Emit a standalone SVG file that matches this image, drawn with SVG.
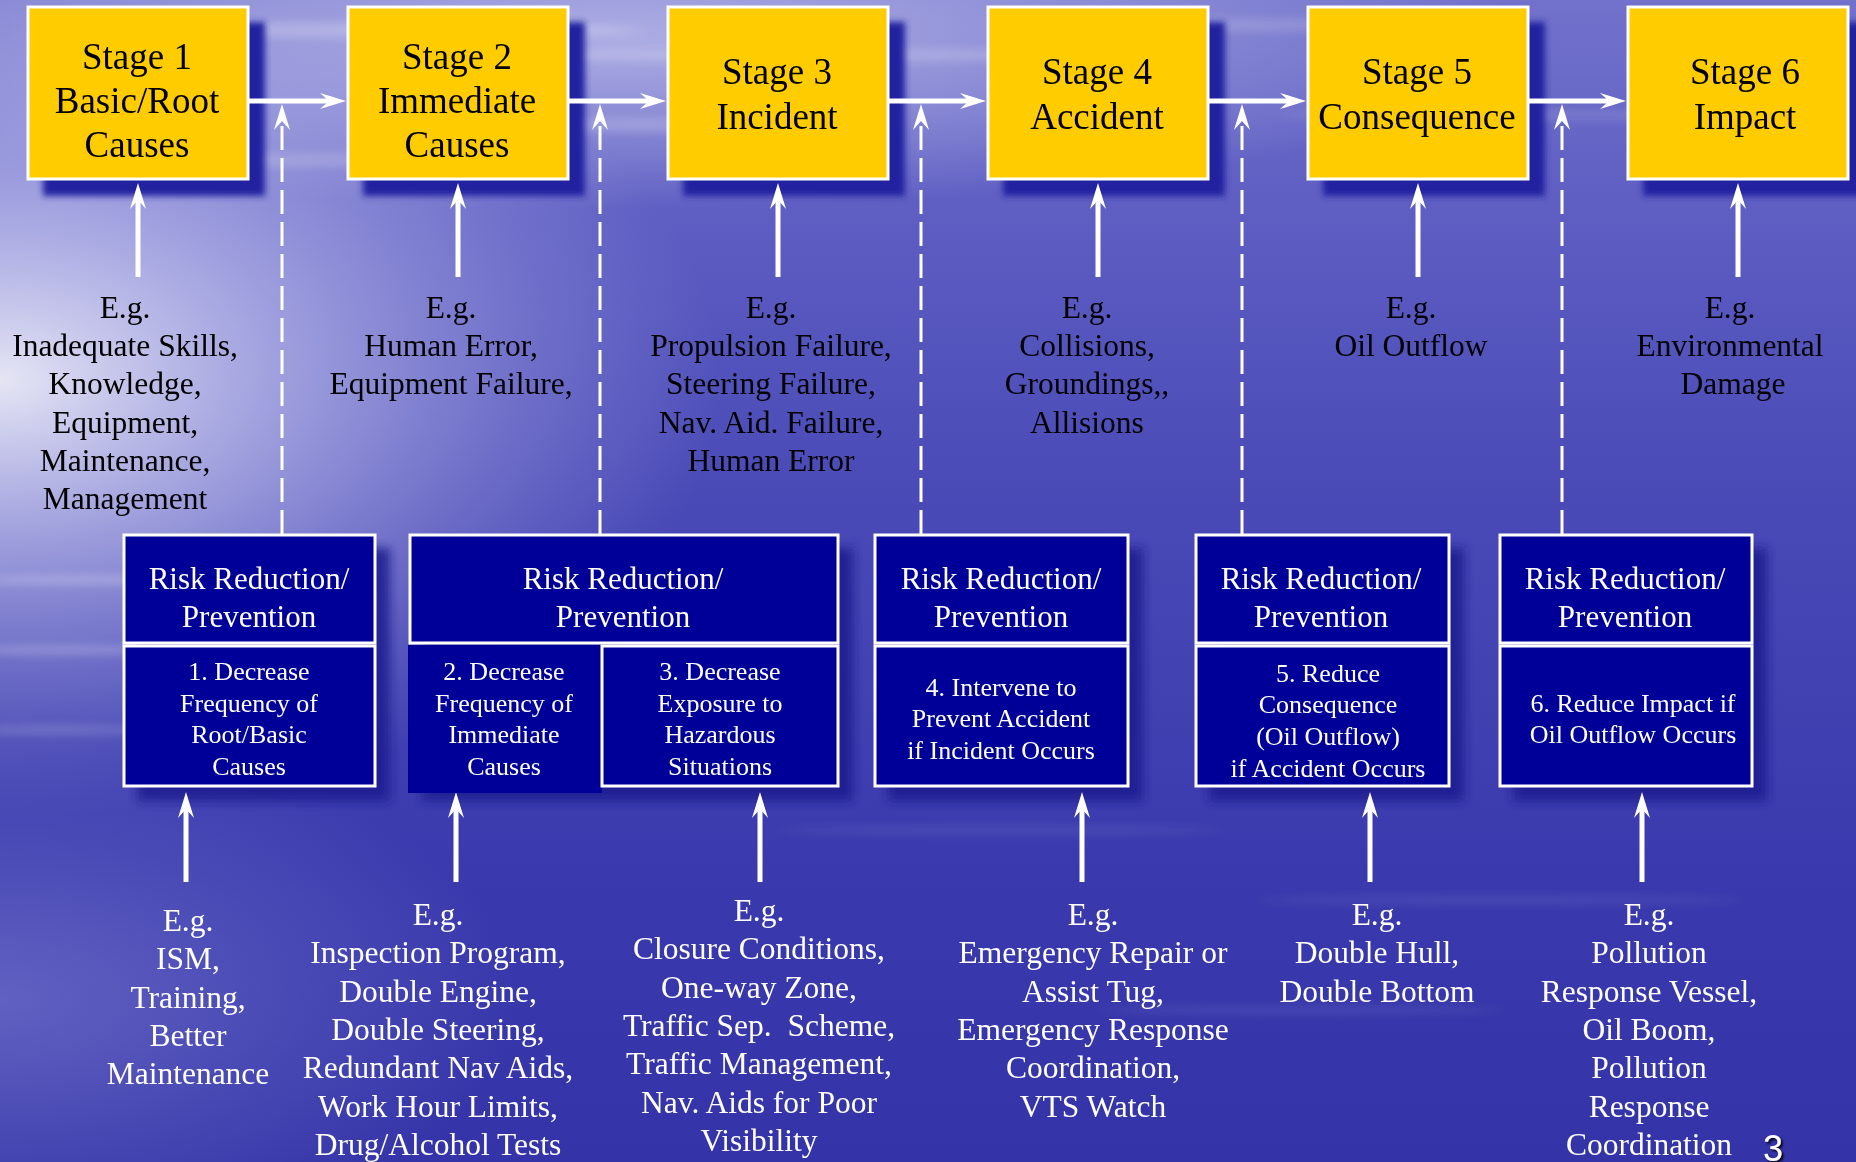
<svg xmlns="http://www.w3.org/2000/svg" width="1856" height="1162" viewBox="0 0 1856 1162">
<defs>
  <linearGradient id="bgv" x1="0" y1="0" x2="0" y2="1">
    <stop offset="0" stop-color="#7272cc"/>
    <stop offset="0.2" stop-color="#5c5cc2"/>
    <stop offset="0.45" stop-color="#4848b6"/>
    <stop offset="0.75" stop-color="#3a3aae"/>
    <stop offset="1" stop-color="#3434a8"/>
  </linearGradient>
  <radialGradient id="glowL" cx="0" cy="0" r="1" gradientUnits="userSpaceOnUse" gradientTransform="translate(0,380) scale(720,440)">
    <stop offset="0" stop-color="#ffffff" stop-opacity="0.85"/>
    <stop offset="0.4" stop-color="#e8e8ff" stop-opacity="0.5"/>
    <stop offset="1" stop-color="#c0c0f0" stop-opacity="0"/>
  </radialGradient>
  <radialGradient id="glowT" cx="0" cy="0" r="1" gradientUnits="userSpaceOnUse" gradientTransform="translate(620,40) scale(900,170)">
    <stop offset="0" stop-color="#d8d8f6" stop-opacity="0.6"/>
    <stop offset="1" stop-color="#d8d8f6" stop-opacity="0"/>
  </radialGradient>
  <radialGradient id="glowB" cx="0" cy="0" r="1" gradientUnits="userSpaceOnUse" gradientTransform="translate(0,1000) scale(520,260)">
    <stop offset="0" stop-color="#8a8ad8" stop-opacity="0.5"/>
    <stop offset="1" stop-color="#8a8ad8" stop-opacity="0"/>
  </radialGradient>
  <filter id="blurS" x="-20%" y="-20%" width="140%" height="140%">
    <feGaussianBlur stdDeviation="3"/>
  </filter>
  <filter id="blurR" x="-20%" y="-20%" width="140%" height="140%">
    <feGaussianBlur stdDeviation="5"/>
  </filter>
  <filter id="streak" x="-20%" y="-400%" width="140%" height="900%">
    <feGaussianBlur stdDeviation="14 4"/>
  </filter>
  <filter id="txtsh" x="-30%" y="-30%" width="160%" height="160%">
    <feDropShadow dx="2" dy="2" stdDeviation="1" flood-color="#000000" flood-opacity="0.9"/>
  </filter>
  <marker id="ah" viewBox="0 0 26 18" refX="10" refY="9" markerWidth="26" markerHeight="18" markerUnits="userSpaceOnUse" orient="auto">
    <path d="M0,1 L26,9 L0,17 L9,9 Z" fill="#ffffff"/>
  </marker>
  <marker id="ahd" viewBox="0 0 26 18" refX="10" refY="9" markerWidth="26" markerHeight="18" markerUnits="userSpaceOnUse" orient="auto">
    <path d="M0,1 L26,9 L0,17 L9,9 Z" fill="#ffffff"/>
  </marker>
  <style>
    .stage{fill:#ffcc00;stroke:#ffffff;stroke-width:3}
    .sshadow{fill:#2020a0;filter:url(#blurS)}
    .rshadow{fill:#1c1c90;opacity:0.85;filter:url(#blurR)}
    .risk{fill:#000099;stroke:#ffffff;stroke-width:3}
    .riskfill{fill:#000099}
    .st{font-family:"Liberation Serif","Times New Roman",serif;font-size:37px;fill:#000000;text-anchor:middle}
    .eg{font-family:"Liberation Serif","Times New Roman",serif;font-size:31.5px;fill:#000000;text-anchor:middle}
    .egw{font-family:"Liberation Serif","Times New Roman",serif;font-size:31.5px;fill:#ffffff;text-anchor:middle}
    .rh{font-family:"Liberation Serif","Times New Roman",serif;font-size:31px;fill:#ffffff;text-anchor:middle}
    .rs{font-family:"Liberation Serif","Times New Roman",serif;font-size:26px;fill:#ffffff;text-anchor:middle}
    .solid{stroke:#ffffff;stroke-width:5;fill:none;marker-end:url(#ah)}
    .horiz{stroke:#ffffff;stroke-width:5;fill:none;marker-end:url(#ah)}
    .dash{stroke:#ffffff;stroke-width:3;fill:none;stroke-dasharray:24 8;marker-end:url(#ahd)}
    .pg{font-family:"Liberation Sans",Arial,sans-serif;font-size:36px;fill:#ffffff}
  </style>
</defs>

<g id="background">
  <rect x="0" y="0" width="1856" height="1162" fill="url(#bgv)"/>
  <rect x="0" y="0" width="1856" height="1162" fill="url(#glowT)"/>
  <rect x="0" y="0" width="1856" height="1162" fill="url(#glowL)"/>
  <rect x="0" y="0" width="1856" height="1162" fill="url(#glowB)"/>
  <g filter="url(#streak)" fill="#ffffff">
    <ellipse cx="380" cy="30" rx="260" ry="8" opacity="0.22"/>
    <ellipse cx="820" cy="55" rx="300" ry="7" opacity="0.18"/>
    <ellipse cx="1200" cy="25" rx="200" ry="7" opacity="0.15"/>
    <ellipse cx="640" cy="125" rx="180" ry="7" opacity="0.18"/>
    <ellipse cx="1500" cy="115" rx="220" ry="6" opacity="0.12"/>
    <ellipse cx="300" cy="160" rx="200" ry="7" opacity="0.16"/>
    <ellipse cx="110" cy="580" rx="140" ry="5" opacity="0.22"/>
    <ellipse cx="70" cy="650" rx="110" ry="5" opacity="0.2"/>
    <ellipse cx="60" cy="730" rx="100" ry="5" opacity="0.15"/>
    <ellipse cx="1000" cy="830" rx="220" ry="5" opacity="0.07"/>
    <ellipse cx="1500" cy="900" rx="240" ry="5" opacity="0.07"/>
    <ellipse cx="1300" cy="1010" rx="200" ry="5" opacity="0.07"/>
  </g>
</g>

<g id="shadows">
  <rect class="sshadow" x="43" y="22" width="222" height="174"/>
  <rect class="sshadow" x="363" y="22" width="222" height="174"/>
  <rect class="sshadow" x="683" y="22" width="222" height="174"/>
  <rect class="sshadow" x="1003" y="22" width="222" height="174"/>
  <rect class="sshadow" x="1323" y="22" width="222" height="174"/>
  <rect class="sshadow" x="1643" y="22" width="222" height="174"/>
  <rect class="rshadow" x="137" y="548" width="253" height="253"/>
  <rect class="rshadow" x="422" y="548" width="431" height="253"/>
  <rect class="rshadow" x="888" y="548" width="255" height="253"/>
  <rect class="rshadow" x="1209" y="548" width="255" height="253"/>
  <rect class="rshadow" x="1513" y="548" width="254" height="253"/>
</g>

<g id="connectors">
  <line class="horiz" x1="249" y1="101" x2="330" y2="101"/>
  <line class="horiz" x1="569" y1="101" x2="650" y2="101"/>
  <line class="horiz" x1="889" y1="101" x2="970" y2="101"/>
  <line class="horiz" x1="1209" y1="101" x2="1290" y2="101"/>
  <line class="horiz" x1="1529" y1="101" x2="1610" y2="101"/>

  <line class="solid" x1="138" y1="277" x2="138" y2="199"/>
  <line class="solid" x1="458" y1="277" x2="458" y2="199"/>
  <line class="solid" x1="778" y1="277" x2="778" y2="199"/>
  <line class="solid" x1="1098" y1="277" x2="1098" y2="199"/>
  <line class="solid" x1="1418" y1="277" x2="1418" y2="199"/>
  <line class="solid" x1="1738" y1="277" x2="1738" y2="199"/>

  <line class="dash" x1="282" y1="534" x2="282" y2="120"/>
  <line class="dash" x1="600" y1="534" x2="600" y2="120"/>
  <line class="dash" x1="921" y1="534" x2="921" y2="120"/>
  <line class="dash" x1="1242" y1="534" x2="1242" y2="120"/>
  <line class="dash" x1="1562" y1="534" x2="1562" y2="120"/>

  <line class="solid" x1="186" y1="882" x2="186" y2="808"/>
  <line class="solid" x1="456" y1="882" x2="456" y2="808"/>
  <line class="solid" x1="760" y1="882" x2="760" y2="808"/>
  <line class="solid" x1="1082" y1="882" x2="1082" y2="808"/>
  <line class="solid" x1="1370" y1="882" x2="1370" y2="808"/>
  <line class="solid" x1="1642" y1="882" x2="1642" y2="808"/>
</g>

<g id="stage1">
  <rect class="stage" x="28" y="7" width="220" height="172"/>
  <text class="st" x="137" y="69">Stage 1</text>
  <text class="st" x="137" y="113">Basic/Root</text>
  <text class="st" x="137" y="157">Causes</text>
</g>
<g id="stage2">
  <rect class="stage" x="348" y="7" width="220" height="172"/>
  <text class="st" x="457" y="69">Stage 2</text>
  <text class="st" x="457" y="113">Immediate</text>
  <text class="st" x="457" y="157">Causes</text>
</g>
<g id="stage3">
  <rect class="stage" x="668" y="7" width="220" height="172"/>
  <text class="st" x="777" y="84">Stage 3</text>
  <text class="st" x="777" y="129">Incident</text>
</g>
<g id="stage4">
  <rect class="stage" x="988" y="7" width="220" height="172"/>
  <text class="st" x="1097" y="84">Stage 4</text>
  <text class="st" x="1097" y="129">Accident</text>
</g>
<g id="stage5">
  <rect class="stage" x="1308" y="7" width="220" height="172"/>
  <text class="st" x="1417" y="84">Stage 5</text>
  <text class="st" x="1417" y="129">Consequence</text>
</g>
<g id="stage6">
  <rect class="stage" x="1628" y="7" width="220" height="172"/>
  <text class="st" x="1745" y="84">Stage 6</text>
  <text class="st" x="1745" y="129">Impact</text>
</g>

<g id="examples-top">
  <text class="eg" x="125" y="318">E.g.</text>
  <text class="eg" x="125" y="356">Inadequate Skills,</text>
  <text class="eg" x="125" y="394">Knowledge,</text>
  <text class="eg" x="125" y="433">Equipment,</text>
  <text class="eg" x="125" y="471">Maintenance,</text>
  <text class="eg" x="125" y="509">Management</text>

  <text class="eg" x="451" y="318">E.g.</text>
  <text class="eg" x="451" y="356">Human Error,</text>
  <text class="eg" x="451" y="394">Equipment Failure,</text>

  <text class="eg" x="771" y="318">E.g.</text>
  <text class="eg" x="771" y="356">Propulsion Failure,</text>
  <text class="eg" x="771" y="394">Steering Failure,</text>
  <text class="eg" x="771" y="433">Nav. Aid. Failure,</text>
  <text class="eg" x="771" y="471">Human Error</text>

  <text class="eg" x="1087" y="318">E.g.</text>
  <text class="eg" x="1087" y="356">Collisions,</text>
  <text class="eg" x="1087" y="394">Groundings,,</text>
  <text class="eg" x="1087" y="433">Allisions</text>

  <text class="eg" x="1411" y="318">E.g.</text>
  <text class="eg" x="1411" y="356">Oil Outflow</text>

  <text class="eg" x="1730" y="318">E.g.</text>
  <text class="eg" x="1730" y="356">Environmental</text>
  <text class="eg" x="1733" y="394">Damage</text>
</g>

<g id="risk1">
  <rect class="risk" x="124" y="535" width="251" height="108"/>
  <rect class="risk" x="124" y="646" width="251" height="140"/>
  <text class="rh" x="249" y="589">Risk Reduction/</text>
  <text class="rh" x="249" y="627">Prevention</text>
  <text class="rs" x="249" y="680">1. Decrease</text>
  <text class="rs" x="249" y="712">Frequency of</text>
  <text class="rs" x="249" y="743">Root/Basic</text>
  <text class="rs" x="249" y="775">Causes</text>
</g>
<g id="risk2">
  <rect class="risk" x="410" y="535" width="428" height="108"/>
  <rect class="riskfill" x="408" y="645" width="194" height="148"/>
  <rect class="risk" x="602" y="646" width="236" height="140"/>
  <text class="rh" x="623" y="589">Risk Reduction/</text>
  <text class="rh" x="623" y="627">Prevention</text>
  <text class="rs" x="504" y="680">2. Decrease</text>
  <text class="rs" x="504" y="712">Frequency of</text>
  <text class="rs" x="504" y="743">Immediate</text>
  <text class="rs" x="504" y="775">Causes</text>
  <text class="rs" x="720" y="680">3. Decrease</text>
  <text class="rs" x="720" y="712">Exposure to</text>
  <text class="rs" x="720" y="743">Hazardous</text>
  <text class="rs" x="720" y="775">Situations</text>
</g>
<g id="risk4">
  <rect class="risk" x="875" y="535" width="253" height="108"/>
  <rect class="risk" x="875" y="646" width="253" height="140"/>
  <text class="rh" x="1001" y="589">Risk Reduction/</text>
  <text class="rh" x="1001" y="627">Prevention</text>
  <text class="rs" x="1001" y="696">4. Intervene to</text>
  <text class="rs" x="1001" y="727">Prevent Accident</text>
  <text class="rs" x="1001" y="759">if Incident Occurs</text>
</g>
<g id="risk5">
  <rect class="risk" x="1196" y="535" width="253" height="108"/>
  <rect class="risk" x="1196" y="646" width="253" height="140"/>
  <text class="rh" x="1321" y="589">Risk Reduction/</text>
  <text class="rh" x="1321" y="627">Prevention</text>
  <text class="rs" x="1328" y="682">5. Reduce</text>
  <text class="rs" x="1328" y="713">Consequence</text>
  <text class="rs" x="1328" y="745">(Oil Outflow)</text>
  <text class="rs" x="1328" y="777">if Accident Occurs</text>
</g>
<g id="risk6">
  <rect class="risk" x="1500" y="535" width="252" height="108"/>
  <rect class="risk" x="1500" y="646" width="252" height="140"/>
  <text class="rh" x="1625" y="589">Risk Reduction/</text>
  <text class="rh" x="1625" y="627">Prevention</text>
  <text class="rs" x="1633" y="712">6. Reduce Impact if</text>
  <text class="rs" x="1633" y="743">Oil Outflow Occurs</text>
</g>

<g id="examples-bottom">
  <text class="egw" x="188" y="931">E.g.</text>
  <text class="egw" x="188" y="969">ISM,</text>
  <text class="egw" x="188" y="1008">Training,</text>
  <text class="egw" x="188" y="1046">Better</text>
  <text class="egw" x="188" y="1084">Maintenance</text>

  <text class="egw" x="438" y="925">E.g.</text>
  <text class="egw" x="438" y="963">Inspection Program,</text>
  <text class="egw" x="438" y="1002">Double Engine,</text>
  <text class="egw" x="438" y="1040">Double Steering,</text>
  <text class="egw" x="438" y="1078">Redundant Nav Aids,</text>
  <text class="egw" x="438" y="1117">Work Hour Limits,</text>
  <text class="egw" x="438" y="1155">Drug/Alcohol Tests</text>

  <text class="egw" x="759" y="921">E.g.</text>
  <text class="egw" x="759" y="959">Closure Conditions,</text>
  <text class="egw" x="759" y="998">One-way Zone,</text>
  <text class="egw" x="759" y="1036" xml:space="preserve">Traffic Sep.  Scheme,</text>
  <text class="egw" x="759" y="1074">Traffic Management,</text>
  <text class="egw" x="759" y="1113">Nav. Aids for Poor</text>
  <text class="egw" x="759" y="1151">Visibility</text>

  <text class="egw" x="1093" y="925">E.g.</text>
  <text class="egw" x="1093" y="963">Emergency Repair or</text>
  <text class="egw" x="1093" y="1002">Assist Tug,</text>
  <text class="egw" x="1093" y="1040">Emergency Response</text>
  <text class="egw" x="1093" y="1078">Coordination,</text>
  <text class="egw" x="1093" y="1117">VTS Watch</text>

  <text class="egw" x="1377" y="925">E.g.</text>
  <text class="egw" x="1377" y="963">Double Hull,</text>
  <text class="egw" x="1377" y="1002">Double Bottom</text>

  <text class="egw" x="1649" y="925">E.g.</text>
  <text class="egw" x="1649" y="963">Pollution</text>
  <text class="egw" x="1649" y="1002">Response Vessel,</text>
  <text class="egw" x="1649" y="1040">Oil Boom,</text>
  <text class="egw" x="1649" y="1078">Pollution</text>
  <text class="egw" x="1649" y="1117">Response</text>
  <text class="egw" x="1649" y="1155">Coordination</text>
</g>

<g id="page-number">
  <text class="pg" x="1763" y="1161" filter="url(#txtsh)">3</text>
</g>
</svg>
